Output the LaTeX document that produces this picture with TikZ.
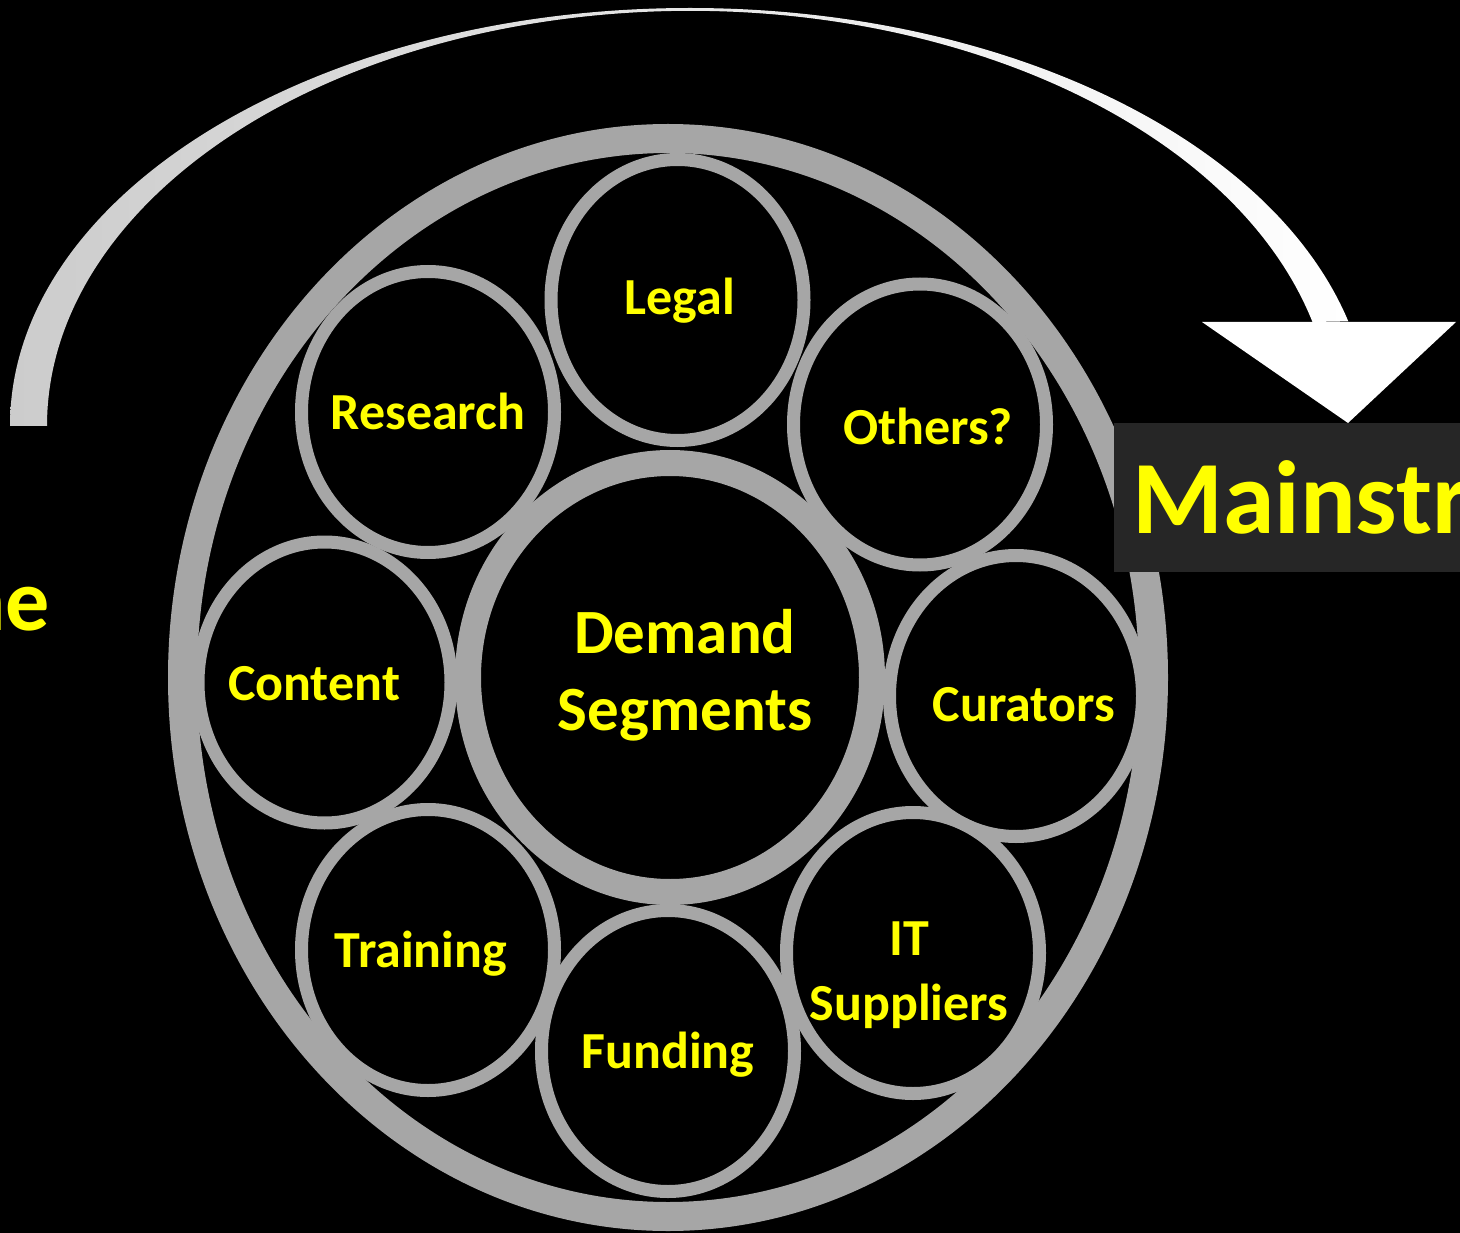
\documentclass[tikz,border=0pt]{standalone}
\usepackage{fontspec}
\setmainfont{Carlito}
\usepackage{tikz}
\usetikzlibrary{shapes.geometric}
\definecolor{ring}{RGB}{166, 166, 166}
\definecolor{pale}{RGB}{204, 204, 204}
\definecolor{boxgray}{RGB}{38, 38, 38}
\definecolor{word}{RGB}{255, 255, 0}

\begin{document}
\begin{tikzpicture}[x=1pt, y=-1pt,
  seg/.style={ellipse, draw=ring, fill=black, line width=13, inner sep=0,
    minimum width=253, minimum height=281},
  lbl/.style={text=word, font=\fontsize{52}{65}\selectfont\bfseries,
    align=center, inner sep=0}]
  \useasboundingbox (0,0) rectangle (1460,1233);
  \clip (0,0) rectangle (1460,1233);
  \fill[black] (0,0) rectangle (1460,1233);

  % sweeping arrow
  \shade[left color=pale, right color=white] (10,426)
    arc[start angle=180, end angle=345.5, x radius=680, y radius=418]
    -- (1312.5,322)
    arc[start angle=345.5, end angle=180, x radius=643, y radius=415] -- cycle;
  \coordinate (tip) at (1348,423);
  \fill[white] (1202,322) -- (1456,322) -- (tip) -- cycle;

  \node[ellipse, draw=ring, line width=29, inner sep=0,
    minimum width=971, minimum height=1078] (outer) at (668,677.5) {};
  \node[ellipse, draw=ring, line width=26, inner sep=0,
    minimum width=404, minimum height=429] (core) at (670,677.5) {};

  \node[seg] (legal) at (677.5,300) {};
  \node[seg] (research) at (428,412) {};
  \node[seg] (others) at (920,424.5) {};
  \node[seg] (content) at (324.5,682.5) {};
  \node[seg] (curators) at (1016,696) {};
  \node[seg] (training) at (428,950) {};
  \node[seg] (itsup) at (913,953) {};
  \node[seg] (funding) at (668,1051) {};

  \node[lbl, anchor=base] (legalT) at (680,315) {Legal};
  \node[lbl, anchor=base] (researchT) at (428,429) {Research};
  \node[lbl, anchor=base] (othersT) at (928,444.5) {Others?};
  \node[lbl, anchor=base] (contentT) at (314,700) {Content};
  \node[lbl, anchor=base] (curatorsT) at (1024,721) {Curators};
  \node[lbl, anchor=base] (trainingT) at (421,967) {Training};
  \node[lbl, anchor=base] (fundingT) at (668,1068) {Funding};
  \node[lbl] (itsupT) at (909,975.5) {IT\\Suppliers};
  \node[lbl, font=\fontsize{63}{77}\selectfont\bfseries] (coreT) at (685,675) {Demand\\Segments};

  % side labels
  \node[fill=boxgray, text=word, font=\fontsize{104}{120}\selectfont\bfseries,
    anchor=west, minimum height=149, inner xsep=18, text width=380, align=left]
    (main) at (1114,497.5) {Mainstr};
  \node[text=word, font=\fontsize{88}{100}\selectfont\bfseries, inner sep=0,
    anchor=base east] (niche) at (50,630) {ne};
\end{tikzpicture}
\end{document}
